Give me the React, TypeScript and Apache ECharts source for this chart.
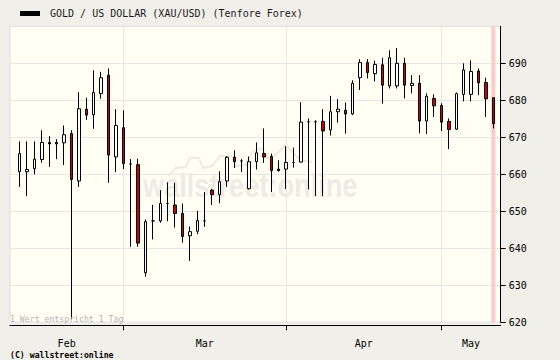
import React, { useEffect, useRef } from 'react';
import * as echarts from 'echarts';

const seriesName = 'GOLD / US DOLLAR (XAU/USD) (Tenfore Forex)';

const dates = [
  '2007-02-09', '2007-02-12', '2007-02-13', '2007-02-14', '2007-02-15', '2007-02-16',
  '2007-02-19', '2007-02-20', '2007-02-21', '2007-02-22', '2007-02-23',
  '2007-02-26', '2007-02-27', '2007-02-28',
  '2007-03-01', '2007-03-02', '2007-03-05', '2007-03-06', '2007-03-07', '2007-03-08', '2007-03-09',
  '2007-03-12', '2007-03-13', '2007-03-14', '2007-03-15', '2007-03-16',
  '2007-03-19', '2007-03-20', '2007-03-21', '2007-03-22', '2007-03-23',
  '2007-03-26', '2007-03-27', '2007-03-28', '2007-03-29', '2007-03-30',
  '2007-04-02', '2007-04-03', '2007-04-04', '2007-04-05', '2007-04-06',
  '2007-04-09', '2007-04-10', '2007-04-11', '2007-04-12', '2007-04-13',
  '2007-04-16', '2007-04-17', '2007-04-18', '2007-04-19', '2007-04-20',
  '2007-04-23', '2007-04-24', '2007-04-25', '2007-04-26', '2007-04-27', '2007-04-30',
  '2007-05-01', '2007-05-02', '2007-05-03', '2007-05-04',
  '2007-05-07', '2007-05-08', '2007-05-09', '2007-05-10',
];

const opens = [
  660.7, 660.7, 661.5, 664.0, 668.6, 668.6, 668.5, 671.0, 658.2, 677.6, 676.1, 681.8, 686.8, 664.7,
  672.6, 662.8, 662.6, 633.4, 647.4, 647.4, 652.1, 651.7, 649.4, 643.4, 644.6, 647.4, 655.7, 654.5,
  658.2, 664.6, 663.6, 656.1, 663.4, 665.6, 664.8, 661.4,
  661.4, 663.2, 663.3, 674.2, 674.2, 674.3, 672.0, 676.9, 677.3, 676.3, 686.1, 690.2, 687.2, 689.6,
  683.9, 683.9, 690.0, 684.0, 684.6, 674.4, 680.5,
  678.6, 674.3, 672.2, 681.6, 681.6, 687.9, 684.8, 680.7,
];
const closes = [
  665.6, 661.3, 664.1, 668.6, 668.2, 668.2, 670.7, 658.6, 677.7, 676.0, 682.1, 686.1, 665.2, 673.2,
  662.9, 662.8, 641.4, 647.2, 647.4, 652.1, 652.1, 649.4, 643.2, 644.5, 647.5, 647.4, 654.5, 658.0,
  664.6, 663.4, 663.6, 663.4, 665.8, 664.7, 661.0, 661.0,
  663.2, 663.2, 674.1, 674.2, 674.2, 671.7, 676.9, 677.6, 676.3, 684.6, 690.2, 687.5, 689.7, 684.1,
  691.5, 690.0, 684.1, 684.6, 674.4, 681.1, 678.5,
  674.1, 672.1, 681.8, 688.2, 687.8, 684.7, 680.4, 673.7,
];
const lows = [
  656.6, 654.1, 660.0, 663.1, 662.0, 664.1, 662.5, 620.8, 656.6, 674.7, 672.3, 680.4, 657.7, 660.6,
  661.4, 640.4, 640.4, 632.3, 642.4, 646.9, 647.3, 645.6, 641.5, 636.6, 643.8, 645.8, 651.7, 652.2,
  656.6, 661.7, 660.6, 655.9, 661.3, 663.1, 655.2, 660.7,
  656.0, 661.8, 663.2, 655.9, 654.1, 654.1, 670.5, 674.0, 671.0, 676.0, 682.8, 685.9, 685.1, 679.1,
  683.2, 683.2, 680.5, 681.9, 671.1, 670.9, 675.5,
  671.7, 666.8, 672.0, 679.7, 679.7, 681.4, 675.5, 672.4,
];
const highs = [
  668.9, 668.9, 668.9, 671.9, 670.3, 669.5, 673.2, 671.9, 682.2, 680.7, 688.1, 687.7, 688.6, 677.6,
  677.3, 664.1, 664.2, 647.8, 651.7, 655.7, 657.8, 657.7, 652.1, 645.9, 650.1, 655.2, 656.1, 660.8,
  664.9, 666.5, 664.1, 664.8, 668.6, 672.4, 665.6, 663.8,
  667.6, 667.2, 679.5, 675.1, 674.6, 677.6, 681.2, 680.3, 679.4, 685.4, 691.1, 691.1, 690.7, 691.5,
  693.5, 694.1, 691.5, 686.8, 686.8, 681.9, 681.6,
  679.2, 675.1, 682.1, 690.0, 690.8, 688.6, 686.1, 680.7,
];

const yTicks = [620, 630, 640, 650, 660, 670, 680, 690];
const monthNames = ['Jan', 'Feb', 'Mar', 'Apr', 'May', 'Jun', 'Jul', 'Aug', 'Sep', 'Oct', 'Nov', 'Dec'];

const MONO = '"DejaVu Sans Mono", monospace';

export default function App() {
  const ref = useRef<HTMLDivElement>(null);
  useEffect(() => {
    const chart = echarts.init(ref.current!, null, { renderer: 'svg' });
    const n = dates.length;
    const monthStarts: number[] = [];
    for (let i = 1; i < n; i++) {
      if (dates[i].slice(5, 7) !== dates[i - 1].slice(5, 7)) monthStarts.push(i);
    }
    const xMin = -1.31;
    const xMax = n;
    const bounds = [xMin, ...monthStarts, xMax];
    const mids: number[] = [];
    const midNames: string[] = [];
    for (let k = 0; k < bounds.length - 1; k++) {
      mids.push((bounds[k] + bounds[k + 1]) / 2);
      const idx = k === 0 ? 0 : monthStarts[k - 1];
      midNames.push(monthNames[+dates[idx].slice(5, 7) - 1]);
    }
    const monthFormatter = (v: number) => {
      for (let k = 0; k < mids.length; k++) if (Math.abs(v - mids[k]) < 1e-6) return midNames[k];
      return '';
    };

    const option: any = {
      animation: false,
      backgroundColor: '#f0efe9',
      textStyle: { fontFamily: MONO },
      legend: {
        left: 20,
        top: 8.5,
        padding: 0,
        itemWidth: 20,
        itemHeight: 5,
        selectedMode: false,
        data: [{ name: seriesName, icon: 'rect', itemStyle: { color: '#000', borderWidth: 0 } }],
        textStyle: { fontFamily: MONO, fontSize: 10, color: '#1a1a1a', padding: [0, 0, 0, 5] },
      },
      grid: [
        {
          left: 10, top: 26.3, width: 490.7, height: 296,
          show: true, backgroundColor: '#fffff4', borderColor: '#dcdcdc', borderWidth: 1,
        },
        { left: 16, top: 26.3, width: 481, height: 296 },
      ],
      xAxis: [
        {
          gridIndex: 0, type: 'value', min: xMin, max: xMax, offset: 3,
          axisLine: { show: true, onZero: false, lineStyle: { color: '#000', width: 1 } },
          axisTick: { show: true, customValues: monthStarts, length: 5, lineStyle: { color: '#000' } },
          axisLabel: {
            customValues: mids, formatter: monthFormatter, margin: 13,
            fontFamily: MONO, fontSize: 10, color: '#000',
          },
          splitLine: { show: true, lineStyle: { color: '#e6e6e6', width: 1 } },
        },
        { gridIndex: 1, type: 'category', data: dates, show: false },
      ],
      yAxis: [
        {
          gridIndex: 0, type: 'value', position: 'right', min: 620, max: 700, interval: 10,
          axisLine: { show: true, onZero: false, lineStyle: { color: '#000', width: 1 } },
          axisTick: { show: true, customValues: yTicks, length: 5, lineStyle: { color: '#000' } },
          axisLabel: { customValues: yTicks, margin: 8, fontFamily: MONO, fontSize: 10, color: '#000' },
          splitLine: { show: true, lineStyle: { color: '#e6e6e6', width: 1 } },
        },
        { gridIndex: 1, type: 'value', min: 620, max: 700, show: false },
      ],
      graphic: [
        {
          type: 'polyline', z: 1, silent: true,
          shape: {
            points: [
              [168, 176], [176, 168], [186, 167], [190, 158], [199, 158], [203, 168], [212, 166],
              [220, 156], [232, 156], [236, 166], [246, 165], [252, 152], [262, 148], [268, 158],
              [276, 155], [286, 144], [292, 152], [300, 160], [312, 162],
            ],
          },
          style: { stroke: '#ebebe3', lineWidth: 2, fill: null },
        },
        {
          type: 'text', x: 143, y: 185, scaleX: 0.8, z: 1, silent: true,
          style: {
            text: 'wallstreet:online', font: 'bold 34px "Liberation Sans"',
            fill: '#ececE4', verticalAlign: 'middle',
          },
        },
        {
          type: 'text', x: 10, y: 319, z: 5, silent: true,
          style: { text: '1 Wert entspricht 1 Tag', font: '8.2px "DejaVu Sans Mono"', fill: '#b4b4b4', verticalAlign: 'middle' },
        },
        {
          type: 'text', x: 10, y: 354.5, z: 5, silent: true,
          style: { text: '(C) wallstreet:online', font: 'bold 8.2px "DejaVu Sans Mono"', fill: '#000', verticalAlign: 'middle' },
        },
      ],
      series: [
        {
          type: 'bar', xAxisIndex: 1, yAxisIndex: 1, silent: true, z: 1, barWidth: 4,
          data: dates.map((_, i) => (i === n - 1 ? 700 : null)),
          itemStyle: { color: '#ffcaca' },
        },
        {
          name: seriesName, type: 'candlestick', xAxisIndex: 1, yAxisIndex: 1, z: 3, barWidth: 3,
          data: dates.map((_, i) => [opens[i], closes[i], lows[i], highs[i]]),
          itemStyle: { color: '#fffff4', color0: '#cc0000', borderColor: '#000', borderColor0: '#000', borderWidth: 1 },
        },
      ],
    };
    chart.setOption(option);
    return () => chart.dispose();
  }, []);
  return <div ref={ref} style={{ position: 'fixed', left: 0, top: 0, width: 560, height: 360 }} />;
}
